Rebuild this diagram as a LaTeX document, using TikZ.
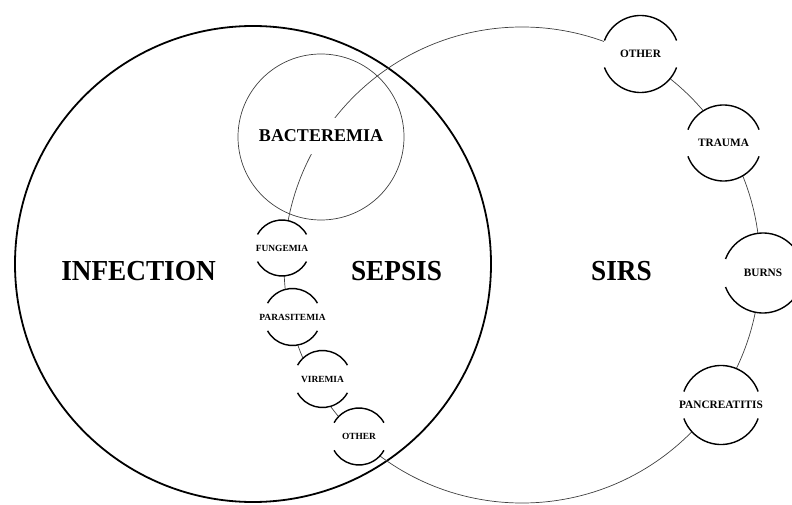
\documentclass[tikz,border=0pt]{standalone}
\usepackage{fontspec}
\setmainfont{Liberation Serif}
\newfontfamily\condfont[FakeStretch=0.94]{Liberation Serif}
\tikzset{
  thickring/.style={line width=1.8pt, black},
  thinring/.style={line width=0.7pt, black!75},
  arcline/.style={line width=1.4pt, black},
  smallnode/.style={circle, fill=white, draw=none, inner sep=0pt, font=\bfseries\fontsize{9.4}{10}\selectfont},
  bignode/.style={circle, fill=white, draw=none, inner sep=0pt, font=\bfseries\fontsize{11.3}{12}\selectfont},
  biglabel/.style={font=\condfont\bfseries\fontsize{29}{30}\selectfont, inner sep=0pt}
}
\newcommand\gapcirc[3]{%
  \draw[arcline] ([shift={(#3:#2)}]#1.center) arc[start angle=#3, end angle=180-#3, radius=#2];
  \draw[arcline] ([shift={(180+#3:#2)}]#1.center) arc[start angle=180+#3, end angle=360-#3, radius=#2];
}
\begin{document}
\begin{tikzpicture}[x=1pt,y=-1pt]
\useasboundingbox (0,0) rectangle (792,505);
% main circles
\coordinate (infc) at (253,264);
\coordinate (sirsc) at (522,265);
\coordinate (bacc) at (321,137);
\draw[thickring] (infc) circle[radius=238pt];
\draw[thinring] (sirsc) circle[radius=238pt];
\draw[thinring] (bacc) circle[radius=83pt];
\node[fill=white, inner xsep=1pt, inner ysep=11.5pt, font=\bfseries\fontsize{18}{19}\selectfont] (bact) at (321,136) {BACTEREMIA};
% small nodes on the left chain
\node[smallnode, minimum size=56pt] (fung) at (282,248) {\makebox[0pt]{FUNGEMIA}};
\node[smallnode, minimum size=57pt] (para) at (292.5,317) {\makebox[0pt]{PARASITEMIA}};
\node[smallnode, minimum size=57pt] (vir) at (322.5,379) {\makebox[0pt]{VIREMIA}};
\node[smallnode, minimum size=57pt] (othl) at (359,436.5) {\makebox[0pt]{OTHER}};
\gapcirc{fung}{28pt}{29}
\gapcirc{para}{28.5pt}{29}
\gapcirc{vir}{28.5pt}{29}
\gapcirc{othl}{28.5pt}{29}
% nodes on the right
\node[bignode, minimum size=77pt] (othr) at (640.5,54) {\makebox[0pt]{OTHER}};
\node[bignode, minimum size=76pt] (trau) at (723.5,143) {\makebox[0pt]{TRAUMA}};
\node[bignode, minimum size=80pt] (burn) at (763,273) {\makebox[0pt]{BURNS}};
\node[bignode, minimum size=79pt] (panc) at (721,405) {\makebox[0pt]{PANCREATITIS}};
\gapcirc{othr}{38.5pt}{20.5}
\gapcirc{trau}{38pt}{20.5}
\gapcirc{burn}{40pt}{20.5}
\gapcirc{panc}{39.5pt}{20}
% big labels
\node[biglabel] (inf) at (138.5,271) {INFECTION};
\node[biglabel] (sep) at (396.5,271.5) {SEPSIS};
\node[biglabel] (sirs) at (621.5,271.5) {SIRS};
\end{tikzpicture}
\end{document}
